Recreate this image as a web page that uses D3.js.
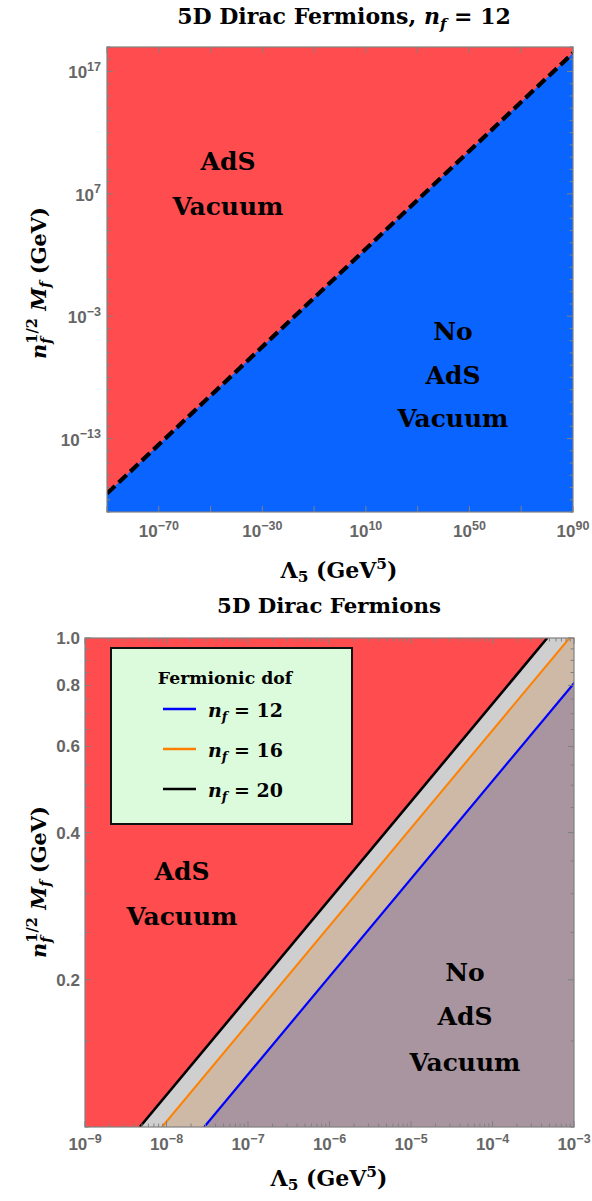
<!DOCTYPE html>
<html><head><meta charset="utf-8">
<script src="https://cdn.jsdelivr.net/npm/d3@7"></script>
<style>body{margin:0;background:#fff}</style>
</head><body>
<svg id="c" width="592" height="1201" xmlns="http://www.w3.org/2000/svg"></svg>
<script>
// ---------- data ----------
// Top panel (n_f = 12): boundary line end points (Lambda_5, n_f^{1/2} M_f)
const topBoundaryLambda = [1e-90, 1e90];
const topBoundaryMass = [3.2e-18, 3.2e18];
const topXDomain = [1e-90, 1e90];
const topYDomain = [1e-19, 1e19];
const topXTickExponents = [-70, -30, 10, 50, 90];
const topYTickExponents = [17, 7, -3, -13];

// Bottom panel: boundary for each n_f, Lambda_5 at M = 0.1 and M = 1.0
const nfValues = [12, 16, 20];
const boundaryMass = [0.1, 1.0];
const boundaryLambdaNf12 = [2.9e-8, 2.9e-3];
const boundaryLambdaNf16 = [8.8e-9, 8.8e-4];
const boundaryLambdaNf20 = [4.7e-9, 4.7e-4];
const bottomXDomain = [1e-9, 1e-3];
const bottomYDomain = [0.1, 1.0];
const bottomXTickExponents = [-9, -8, -7, -6, -5, -4, -3];
const bottomYTickLabels = [0.2, 0.4, 0.6, 0.8, 1.0];

const SERIF = "'DejaVu Serif', 'Liberation Serif', serif";
const SANS = "'Liberation Sans', Arial, sans-serif";
const TICKC = "#666";
const FRAMEC = "#808080";

const svg = d3.select("#c");

function rich(parent, x, y, segs, o = {}) {
  const base = o.size || 18;
  const draw = k => {
    const t = parent.append("text").attr("x", x).attr("y", y)
      .attr("font-family", o.family || SERIF).attr("font-weight", o.weight || "bold")
      .attr("font-size", base * k).attr("fill", o.fill || "#000")
      .attr("text-anchor", o.anchor || "start");
    let cur = 0, prev = null;
    segs.forEach(s => {
      const sp = t.append("tspan").text(s.t);
      const target = (s.shift || 0) * k;
      sp.attr("dy", target - cur); cur = target;
      if (s.size) sp.attr("font-size", s.size * k);
      if (s.it) sp.attr("font-style", "italic");
      if (s.back && prev) sp.attr("dx", -prev.node().getComputedTextLength());
      prev = sp;
    });
    return t;
  };
  let t = draw(1);
  if (o.width) {
    const w = t.node().getBBox().width;
    t.remove();
    t = draw(o.width / w);
  }
  return t;
}

function powLabel(parent, x, y, exp, anchor) {
  return rich(parent, x, y, [
    { t: "10" },
    { t: String(exp).replace("-", "\u2212"), size: 12.5, shift: -7.5 }
  ], { family: SANS, size: 17, fill: TICKC, anchor: anchor });
}

function yLabel(parent, cx, cy) {
  const g = parent.append("g").attr("transform", `translate(${cx},${cy}) rotate(-90)`);
  rich(g, 0, 0, [
    { t: "n", it: true },
    { t: "f", it: true, size: 14, shift: 5 },
    { t: "1/2", size: 14, shift: -9, back: true },
    { t: " M", it: true, shift: 0 },
    { t: "f", it: true, size: 14, shift: 4 },
    { t: " (GeV)", shift: 0 }
  ], { size: 20, anchor: "middle", width: 152 });
}

function xLabel(parent, cx, cy) {
  rich(parent, cx, cy, [
    { t: "\u039B" },
    { t: "5", size: 14, shift: 4 },
    { t: " (GeV", shift: 0 },
    { t: "5", size: 14, shift: -8 },
    { t: ")", shift: 0 }
  ], { size: 20, anchor: "middle", width: 118 });
}

function frameTicks(g, x, y, xTicks, yTicks, L, T, R, B) {
  [[B, 1], [T, -1]].forEach(([yy, dir]) => {
    xTicks.forEach(tk => {
      const len = tk.major ? 6 : 3.5;
      g.append("line").attr("x1", x(tk.v)).attr("x2", x(tk.v))
        .attr("y1", yy).attr("y2", yy - dir * len)
        .attr("stroke", FRAMEC).attr("stroke-width", 1);
    });
  });
  [[L, 1], [R, -1]].forEach(([xx, dir]) => {
    yTicks.forEach(tk => {
      const len = tk.major ? 6 : 3.5;
      g.append("line").attr("y1", y(tk.v)).attr("y2", y(tk.v))
        .attr("x1", xx).attr("x2", xx + dir * len)
        .attr("stroke", FRAMEC).attr("stroke-width", 1);
    });
  });
  g.append("rect").attr("x", L).attr("y", T).attr("width", R - L).attr("height", B - T)
    .attr("fill", "none").attr("stroke", FRAMEC).attr("stroke-width", 1.2);
}

const VAC_W = 112;

// ================= TOP PANEL =================
{
  const L = 107, R = 573, T = 47, B = 512;
  const x = d3.scaleLog().domain(topXDomain).range([L, R]);
  const y = d3.scaleLog().domain(topYDomain).range([B, T]);
  const g = svg.append("g");
  svg.append("clipPath").attr("id", "clipTop").append("rect")
    .attr("x", L).attr("y", T).attr("width", R - L).attr("height", B - T);
  const pg = g.append("g").attr("clip-path", "url(#clipTop)");
  pg.append("rect").attr("x", L).attr("y", T).attr("width", R - L).attr("height", B - T)
    .attr("fill", "#0a64ff");
  const redPoly = [
    [topXDomain[0], topYDomain[1]],
    [topBoundaryLambda[0], topBoundaryMass[0]],
    [topBoundaryLambda[1], topBoundaryMass[1]],
    [topXDomain[1], topYDomain[1]]
  ];
  pg.append("path").attr("d", d3.line().x(d => x(d[0])).y(d => y(d[1]))(redPoly) + "Z")
    .attr("fill", "#ff4d4f");
  pg.append("path")
    .attr("d", d3.line().x(d => x(d[0])).y(d => y(d[1]))(topBoundaryLambda.map((l, i) => [l, topBoundaryMass[i]])))
    .attr("stroke", "#000").attr("stroke-width", 4.2).attr("stroke-dasharray", "11,5").attr("fill", "none");

  const xt = d3.range(-90, 91, 20).map(e => ({ v: Math.pow(10, e), major: true }));
  const yt = d3.range(-19, 20, 1).map(e => ({ v: Math.pow(10, e), major: topYTickExponents.includes(e) }));
  frameTicks(g, x, y, xt, yt, L, T, R, B);

  topXTickExponents.forEach(e => powLabel(g, x(Math.pow(10, e)), 537, e, "middle"));
  topYTickExponents.forEach(e => powLabel(g, 101, y(Math.pow(10, e)) + 7, e, "end"));

  rich(g, 344, 24, [
    { t: "5D Dirac Fermions, " },
    { t: "n", it: true },
    { t: "f", it: true, size: 13, shift: 4 },
    { t: " = 12", shift: 0 }
  ], { size: 19, anchor: "middle", width: 334 });
  xLabel(g, 339, 578);
  yLabel(g, 46, 283);

  const lab = { size: 25, anchor: "middle" };
  rich(g, 228, 170, [{ t: "AdS" }], lab);
  rich(g, 228, 215, [{ t: "Vacuum" }], Object.assign({ width: VAC_W }, lab));
  rich(g, 453, 340, [{ t: "No" }], lab);
  rich(g, 453, 384, [{ t: "AdS" }], lab);
  rich(g, 453, 427, [{ t: "Vacuum" }], Object.assign({ width: VAC_W }, lab));
}

// ================= BOTTOM PANEL =================
{
  const L = 85, R = 574, T = 638, B = 1127;
  const x = d3.scaleLog().domain(bottomXDomain).range([L, R]);
  const y = d3.scaleLog().domain(bottomYDomain).range([B, T]);
  const g = svg.append("g");
  svg.append("clipPath").attr("id", "clipBot").append("rect")
    .attr("x", L).attr("y", T).attr("width", R - L).attr("height", B - T);
  const pg = g.append("g").attr("clip-path", "url(#clipBot)");
  const line = d3.line().x(d => x(d[0])).y(d => y(d[1]));

  pg.append("rect").attr("x", L).attr("y", T).attr("width", R - L).attr("height", B - T)
    .attr("fill", "#a8959f");
  const series = [
    { nf: nfValues[0], lam: boundaryLambdaNf12, fill: "#cdb9a6", stroke: "#0000ff", w: 2.2 },
    { nf: nfValues[1], lam: boundaryLambdaNf16, fill: "#cfcfcf", stroke: "#ff8000", w: 2 },
    { nf: nfValues[2], lam: boundaryLambdaNf20, fill: "#ff4d4f", stroke: "#000000", w: 2.6 }
  ];
  series.forEach(s => {
    const poly = [
      [bottomXDomain[0], boundaryMass[0]],
      [s.lam[0], boundaryMass[0]],
      [s.lam[1], boundaryMass[1]],
      [bottomXDomain[0], boundaryMass[1]]
    ];
    pg.append("path").attr("d", line(poly) + "Z").attr("fill", s.fill);
  });
  series.forEach(s => {
    pg.append("path").attr("d", line(s.lam.map((l, i) => [l, boundaryMass[i]])))
      .attr("stroke", s.stroke).attr("stroke-width", s.w).attr("fill", "none");
  });

  const xt = [];
  for (let e = -9; e <= -3; e++) {
    xt.push({ v: Math.pow(10, e), major: true });
    if (e < -3) for (let k = 2; k <= 9; k++) xt.push({ v: k * Math.pow(10, e), major: false });
  }
  const yt = d3.range(2, 21).map(k => ({ v: k * 0.05, major: k % 4 === 0 }));
  frameTicks(g, x, y, xt, yt, L, T, R, B);

  bottomXTickExponents.forEach(e => powLabel(g, x(Math.pow(10, e)), 1150, e, "middle"));
  bottomYTickLabels.forEach(v => rich(g, 80, y(v) + 6, [{ t: v.toFixed(1) }],
    { family: SANS, size: 17, fill: TICKC, anchor: "end" }));

  rich(g, 329, 613, [{ t: "5D Dirac Fermions" }], { size: 19, anchor: "middle", width: 224 });
  xLabel(g, 329, 1186);
  yLabel(g, 46, 882);

  const lab = { size: 25, anchor: "middle" };
  rich(g, 182, 880, [{ t: "AdS" }], lab);
  rich(g, 182, 925, [{ t: "Vacuum" }], Object.assign({ width: VAC_W }, lab));
  rich(g, 465, 981, [{ t: "No" }], lab);
  rich(g, 465, 1025, [{ t: "AdS" }], lab);
  rich(g, 465, 1071, [{ t: "Vacuum" }], Object.assign({ width: VAC_W }, lab));

  // legend
  const lg = g.append("g");
  lg.append("rect").attr("x", 111).attr("y", 648).attr("width", 241).attr("height", 176)
    .attr("fill", "#dcfadc").attr("stroke", "#111").attr("stroke-width", 2);
  rich(lg, 225, 684, [{ t: "Fermionic dof" }], { size: 17, anchor: "middle", width: 136 });
  series.forEach((s, i) => {
    const yy = 709 + i * 40;
    lg.append("line").attr("x1", 163).attr("x2", 196).attr("y1", yy).attr("y2", yy)
      .attr("stroke", s.stroke).attr("stroke-width", 2.5);
    rich(lg, 208, yy + 8, [
      { t: "n", it: true },
      { t: "f", it: true, size: 13, shift: 4 },
      { t: " = " + s.nf, shift: 0 }
    ], { size: 19, width: 75 });
  });
}
</script>
</body></html>
